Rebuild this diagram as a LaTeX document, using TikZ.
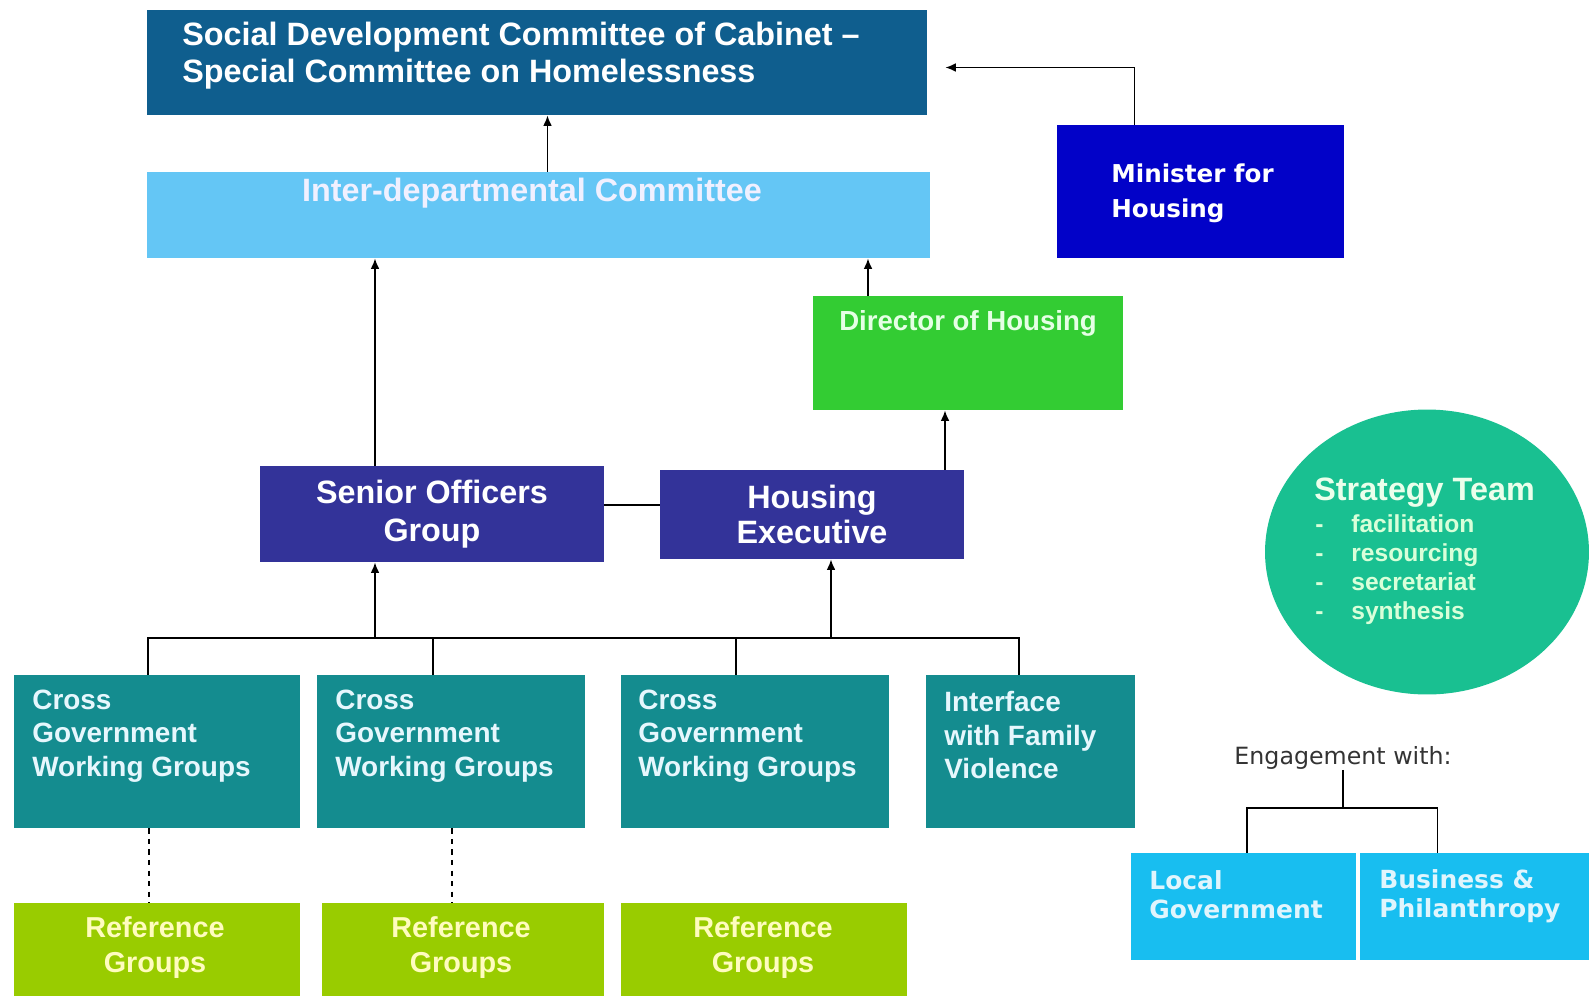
\documentclass[tikz,border=0pt]{standalone}
\usepackage{fontspec}
\setmainfont{Liberation Sans}
\newfontfamily\verd{DejaVu Sans}
\usetikzlibrary{calc, shapes.geometric, arrows.meta}
\definecolor{Cab-1}{RGB}{15,94,142}
\definecolor{Idc-1}{RGB}{100,198,245}
\definecolor{Min-1}{RGB}{2,2,200}
\definecolor{Dir-1}{RGB}{51,204,51}
\definecolor{Sog-1}{RGB}{51,51,153}
\definecolor{Cgw-1}{RGB}{20,140,143}
\definecolor{Ref-1}{RGB}{153,204,0}
\definecolor{Str-1}{RGB}{25,192,145}
\definecolor{Eng-1}{RGB}{24,190,240}

\begin{document}
\begin{tikzpicture}[x=0.02cm, y=-0.02cm]
        \tikzset{ box/.style ={rectangle, inner sep=0pt} }
        \tikzset{ bigt/.style={text=white, inner sep=0pt, align=left, font=\bfseries\fontsize{18.4}{21}\selectfont} }
        \tikzset{ cgwt/.style={text=white!90!cyan, inner sep=0pt, align=left, font=\bfseries\fontsize{15.9}{19}\selectfont} }
        \tikzset{ reft/.style={text=yellow!25!white, inner sep=0pt, align=center, font=\bfseries\fontsize{16.4}{19.8}\selectfont} }
        \tikzset{ vert/.style={text=white, inner sep=0pt, align=left, font=\verd\bfseries\fontsize{14}{19.8}\selectfont} }
        \tikzset{ arr/.style ={->, >={Latex[length=6pt, width=5pt]}, line width=1pt} }
        \tikzset{ lnk/.style ={line width=1pt} }

        \useasboundingbox (0,0) rectangle (1589,995);

        % top of the structure
        \node[box, fill=Cab-1, minimum width=15.6cm,  minimum height=2.1cm ] (sdc) at (537, 62.5)   {};
        \node[box, fill=Idc-1, minimum width=15.66cm, minimum height=1.72cm] (idc) at (538.5, 215)  {};
        \node[box, fill=Min-1, minimum width=5.74cm,  minimum height=2.66cm] (min) at (1200.5, 191.5) {};
        \node[box, fill=Dir-1, minimum width=6.2cm,   minimum height=2.28cm] (dir) at (968, 353)    {};

        \node[bigt, anchor=west] (sdc_t) at (182, 56) {Social Development Committee of Cabinet --\\Special Committee on Homelessness};
        \node[bigt, text=white!94!blue] (idc_t) at (532, 193) {Inter-departmental Committee};
        \node[vert, anchor=west] (min_t) at (1111, 193) {Minister for\\Housing};
        \node[bigt, text=green!10!white, font=\bfseries\fontsize{15.7}{19}\selectfont] (dir_t) at (968, 323) {Director of Housing};

        % middle row
        \node[box, fill=Sog-1, minimum width=6.88cm, minimum height=1.92cm, bigt, align=center,
              font=\bfseries\fontsize{18.4}{22}\selectfont] (sog) at (432, 514) {Senior Officers\\Group};
        \node[box, fill=Sog-1, minimum width=6.08cm, minimum height=1.78cm, bigt, align=center,
              font=\bfseries\fontsize{18.4}{19.6}\selectfont] (he) at (812, 514.5) {Housing\\Executive};

        % working groups
        \node[box, fill=Cgw-1, minimum width=5.72cm, minimum height=3.06cm] (cgw1) at (157, 751.5)  {};
        \node[box, fill=Cgw-1, minimum width=5.36cm, minimum height=3.06cm] (cgw2) at (451, 751.5)  {};
        \node[box, fill=Cgw-1, minimum width=5.36cm, minimum height=3.06cm] (cgw3) at (755, 751.5)  {};
        \node[box, fill=Cgw-1, minimum width=4.18cm, minimum height=3.06cm] (ifv)  at (1030.5, 751.5) {};

        \node[cgwt, anchor=west] (cgw1_t) at (32, 736)  {Cross\\Government\\Working Groups};
        \node[cgwt, anchor=west] (cgw2_t) at (335, 736) {Cross\\Government\\Working Groups};
        \node[cgwt, anchor=west] (cgw3_t) at (638, 736) {Cross\\Government\\Working Groups};
        \node[cgwt, anchor=west] (ifv_t)  at (944, 735) {Interface\\with Family\\Violence};

        % reference groups
        \node[box, fill=Ref-1, minimum width=5.72cm, minimum height=2cm] (ref1) at (157, 953) {};
        \node[box, fill=Ref-1, minimum width=5.64cm, minimum height=2cm] (ref2) at (463, 953) {};
        \node[box, fill=Ref-1, minimum width=5.72cm, minimum height=2cm] (ref3) at (764, 953) {};

        \node[reft] (ref1_t) at (155, 947.5) {Reference\\Groups};
        \node[reft] (ref2_t) at (461, 947.5) {Reference\\Groups};
        \node[reft] (ref3_t) at (763, 947.5) {Reference\\Groups};

        % strategy team
        \node[ellipse, fill=Str-1, inner sep=0pt, minimum width=6.48cm, minimum height=5.7cm] (str) at (1427, 552) {};
        \node[bigt, anchor=west, text=white!92!green] (str_t) at (1314, 493) {Strategy Team};
        \node[bigt, anchor=west, text=white!85!green, font=\bfseries\fontsize{14}{16.6}\selectfont] (str_i) at (1315, 569.5)
             {\makebox[0.72cm][l]{-}facilitation\\\makebox[0.72cm][l]{-}resourcing\\\makebox[0.72cm][l]{-}secretariat\\\makebox[0.72cm][l]{-}synthesis};

        % engagement
        \node[inner sep=0pt, text=black!80, font=\verd\fontsize{13.5}{16}\selectfont] (eng_t) at (1343, 758) {Engagement with:};
        \node[box, fill=Eng-1, minimum width=4.5cm, minimum height=2.14cm] (lg) at (1243.5, 906.5) {};
        \node[box, fill=Eng-1, minimum width=4.7cm, minimum height=2.14cm] (bp) at (1477.5, 906.5) {};
        \node[vert, anchor=west, text=white!88!cyan, font=\verd\bfseries\fontsize{14.2}{16.4}\selectfont] (lg_t) at (1149, 894.5) {Local\\Government};
        \node[vert, anchor=west, text=white!88!cyan, font=\verd\bfseries\fontsize{14.2}{16.4}\selectfont] (bp_t) at (1379, 896.5) {Business \&\\Philanthropy};

        % connector end points
        \coordinate (bus_l) at (148, 638);
        \coordinate (bus_r) at (1019, 638);
        \coordinate (eng_j) at (1343, 808);
        \coordinate (idc_up) at ($(idc.north)+(9,0)$);
        \coordinate (min_up) at ($(min.north)+(-66,0)$);
        \coordinate (sdc_in) at ($(sdc.east)+(18,5)$);
        \coordinate (dir_up) at ($(dir.north)+(-100,0)$);
        \coordinate (sog_up) at ($(sog.north)+(-57,0)$);
        \coordinate (sog_dn) at ($(sog.south)+(-57,0)$);
        \coordinate (he_up)  at ($(he.north)+(133,0)$);
        \coordinate (he_dn)  at ($(he.south)+(19,0)$);
        \coordinate (sog_r)  at ($(sog.east)+(0,-9)$);
        \coordinate (cgw2_up) at ($(cgw2.north)+(-18,0)$);
        \coordinate (cgw3_up) at ($(cgw3.north)+(-19,0)$);
        \coordinate (cgw1_dn) at ($(cgw1.south)+(-8,0)$);
        \coordinate (cgw2_dn) at ($(cgw2.south)+(1,0)$);
        \coordinate (lg_up) at ($(lg.north)+(3.5,0)$);
        \coordinate (bp_up) at ($(bp.north)+(-40,0)$);

        % connectors
        \draw[arr] (idc_up) -- (idc_up |- sdc.south);
        \draw[arr] (min_up) |- (sdc_in);
        \draw[arr] (dir_up) -- (dir_up |- idc.south);
        \draw[arr] (sog_up) -- (sog_up |- idc.south);
        \draw[arr] (he_up) -- (he_up |- dir.south);
        \draw[lnk] (sog_r) -- (sog_r -| he.west);

        \draw[lnk] (cgw1.north -| bus_l) -- (bus_l) -- (bus_r) -- (ifv.north -| bus_r);
        \draw[lnk] (cgw2_up) -- (cgw2_up |- bus_l);
        \draw[lnk] (cgw3_up) -- (cgw3_up |- bus_l);
        \draw[arr] (sog_dn |- bus_l) -- (sog_dn);
        \draw[arr] (he_dn |- bus_l) -- (he_dn);

        \draw[lnk, dashed] (cgw1_dn) -- (cgw1_dn |- ref1.north);
        \draw[lnk, dashed] (cgw2_dn) -- (cgw2_dn |- ref2.north);

        \draw[lnk] (eng_t.south) -- (eng_j);
        \draw[lnk] (lg_up) |- (bp_up |- eng_j) -- (bp_up);
\end{tikzpicture}
\end{document}
